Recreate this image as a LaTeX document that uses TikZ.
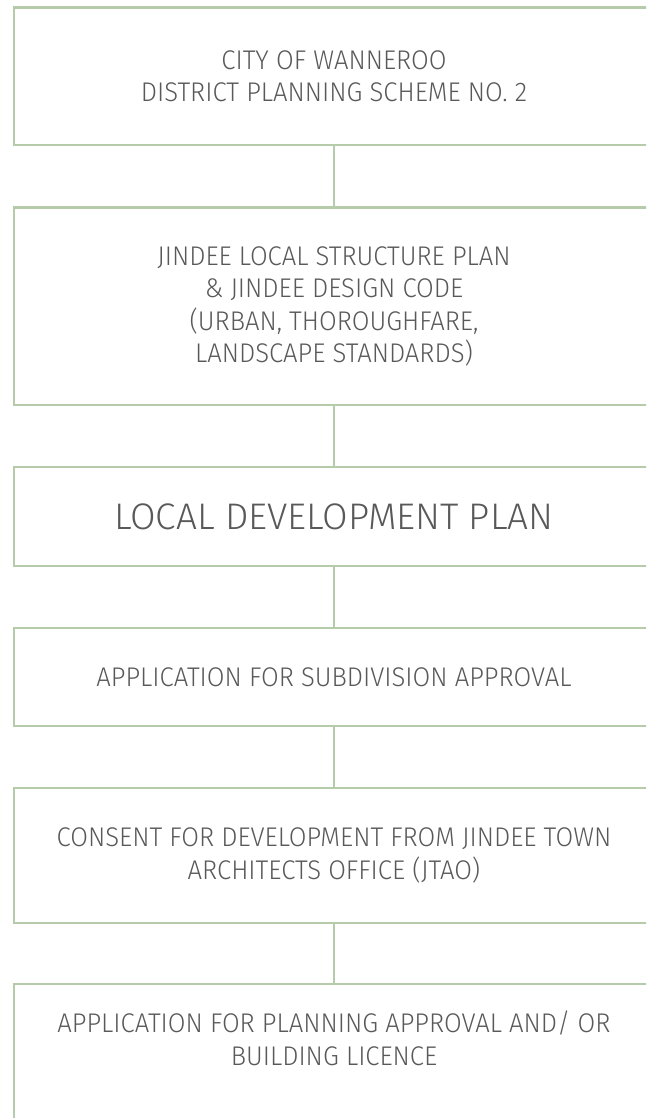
\documentclass[tikz,border=0pt]{standalone}
\usepackage{fontspec}
\setmainfont{Fira Sans}[UprightFont={* Light}, FakeStretch=0.95]
\newfontfamily\bigfont{Fira Sans}[UprightFont={* Light}, FakeStretch=1.0]
\definecolor{sage}{HTML}{B5CBA9}
\definecolor{txt}{HTML}{595959}
\begin{document}
\begin{tikzpicture}[x=1pt,y=-1pt,
  box/.style={draw=sage, line width=2.2pt, rectangle, minimum width=640pt, inner sep=0pt, align=center, text=txt, font=\fontsize{27}{31.5}\selectfont},
  link/.style={draw=sage, line width=2.2pt}]
\useasboundingbox (0,0) rectangle (646,1118);
\clip (0,0) rectangle (646,1118);
\node[box, minimum height=137.5pt] (b1) at (334,76.25) {CITY OF WANNEROO\\DISTRICT PLANNING SCHEME NO. 2};
\node[box, minimum height=197.5pt, font=\fontsize{27}{32.5}\selectfont] (b2) at (334,306.25) {JINDEE LOCAL STRUCTURE PLAN\\\& JINDEE DESIGN CODE\\(URBAN, THOROUGHFARE,\\LANDSCAPE STANDARDS)};
\node[box, minimum height=99pt, font=\bigfont\fontsize{37}{40}\selectfont] (b3) at (334,516.5) {LOCAL DEVELOPMENT PLAN};
\node[box, minimum height=98pt] (b4) at (334,677) {APPLICATION FOR SUBDIVISION APPROVAL};
\node[box, minimum height=134.7pt, font=\fontsize{27}{32.5}\selectfont] (b5) at (334,855.35) {CONSENT FOR DEVELOPMENT FROM JINDEE TOWN\\ARCHITECTS OFFICE (JTAO)};
\node[box, minimum height=200pt] (b6) at (334,1084) {};
\node[text=txt, align=center, inner sep=0pt, font=\fontsize{27}{33}\selectfont] (t6) at (334,1038.5) {APPLICATION FOR PLANNING APPROVAL AND/ OR\\BUILDING LICENCE};
\draw[link] (b1.south) -- (b2.north);
\draw[link] (b2.south) -- (b3.north);
\draw[link] (b3.south) -- (b4.north);
\draw[link] (b4.south) -- (b5.north);
\draw[link] (b5.south) -- (b6.north);
\end{tikzpicture}
\end{document}
